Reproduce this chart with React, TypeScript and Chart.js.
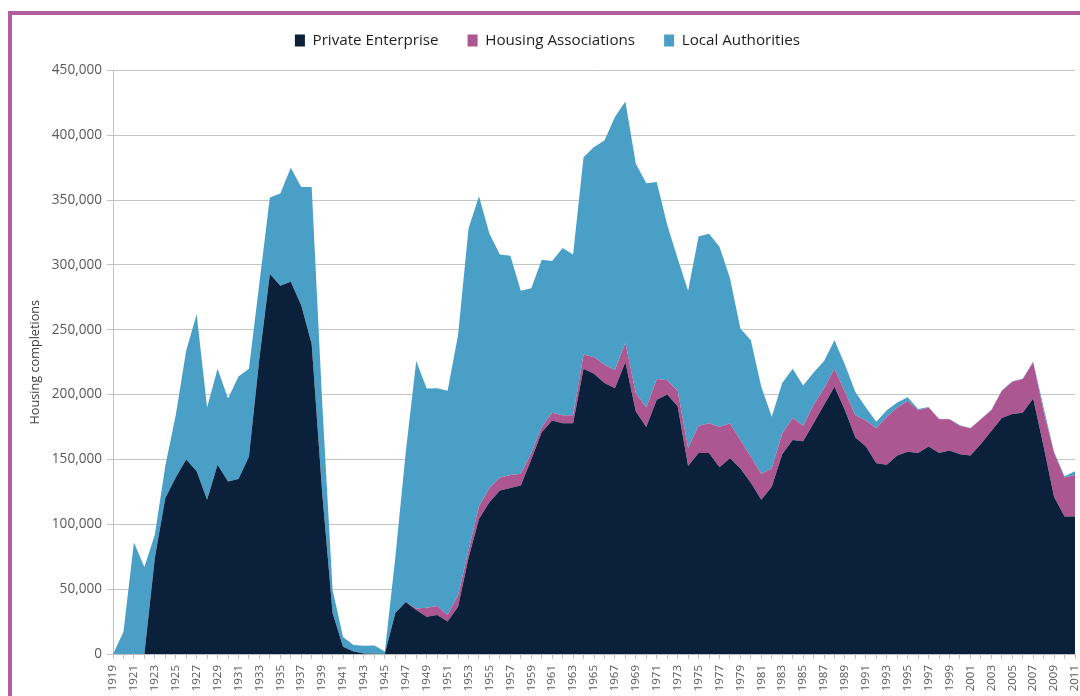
import React, { useEffect, useRef } from "react";
import { Chart, registerables } from "chart.js";

Chart.register(...registerables);

const years: string[] = [];
for (let y = 1919; y <= 2011; y++) years.push(String(y));

const privateEnterprise = [
  0, 0, 0, 0, 74000, 120000, 136000, 150000, 141000, 119000,
  146000, 133000, 135000, 152000, 228000, 293000, 284000, 287000, 269000, 239000,
  125000, 31600, 5600, 2000, 300, 200, 200, 31600, 40000, 34000,
  28700, 30000, 25000, 36400, 74000, 104000, 117000, 126000, 128000, 130000,
  150000, 171000, 180000, 178000, 178000, 220000, 216000, 209000, 205000, 225000,
  187000, 175000, 196000, 200000, 191000, 145000, 155000, 155000, 144000, 151000,
  143000, 132000, 119000, 129000, 154000, 165000, 164000, 178000, 192000, 206000,
  188000, 167000, 160000, 147000, 146000, 153000, 156000, 155000, 160000, 155000,
  157000, 154000, 153000, 162000, 172000, 182000, 185000, 186000, 197000, 160000,
  121000, 106000, 106000,
];

const housingAssociations = [
  0, 0, 0, 0, 0, 0, 0, 0, 0, 0,
  0, 0, 0, 0, 0, 0, 0, 0, 0, 0,
  0, 0, 0, 0, 0, 0, 0, 0, 0, 1000,
  7000, 7000, 5000, 9000, 6000, 10000, 11000, 10000, 10000, 9000,
  5000, 4000, 6000, 6000, 6000, 11000, 13000, 14000, 14000, 15000,
  14000, 15000, 16000, 11000, 12000, 14000, 21000, 23000, 31000, 27000,
  22000, 20000, 20000, 14000, 16000, 17000, 12000, 14000, 13000, 14000,
  14000, 17000, 20000, 27000, 37000, 37000, 39000, 33000, 30000, 26000,
  24000, 22000, 21000, 19000, 16000, 21000, 25000, 26000, 28000, 27000,
  34000, 30000, 32000,
];

const localAuthorities = [
  0, 17000, 86000, 67000, 18000, 25000, 48000, 84000, 121000, 71000,
  74000, 64000, 79000, 68000, 58000, 59000, 71000, 88000, 91000, 121000,
  70000, 18000, 7500, 5000, 6000, 6300, 1800, 43000, 116000, 191000,
  169000, 168000, 173000, 200600, 248000, 239000, 196000, 172000, 169000, 141000,
  127000, 129000, 117000, 129000, 124000, 152000, 162000, 173000, 195000, 186000,
  177000, 173000, 152000, 120000, 102000, 121000, 146000, 146000, 139000, 112000,
  86000, 90000, 67000, 40000, 39000, 38000, 31000, 25000, 21000, 22000,
  21000, 18000, 10000, 5000, 5000, 4000, 3000, 1000, 500, 300,
  200, 300, 200, 200, 300, 200, 300, 300, 500, 3000,
  1000, 1000, 3000,
];

const seriesNames = ["Private Enterprise", "Housing Associations", "Local Authorities"];
const seriesColors = ["#0b203b", "#ad5792", "#4a9fc7"];

export default function App() {
  const canvasRef = useRef<HTMLCanvasElement | null>(null);

  useEffect(() => {
    if (!canvasRef.current) return;
    const seriesData = [privateEnterprise, housingAssociations, localAuthorities];
    const chart = new Chart(canvasRef.current, {
      type: "line",
      data: {
        labels: years,
        datasets: seriesNames.map((name, i) => ({
          label: name,
          data: seriesData[i],
          backgroundColor: seriesColors[i],
          borderColor: seriesColors[i],
          borderWidth: 0,
          pointRadius: 0,
          pointHoverRadius: 0,
          tension: 0,
          fill: i === 0 ? "origin" : "-1",
        })),
      },
      options: {
        animation: false,
        responsive: false,
        maintainAspectRatio: false,
        layout: { padding: { left: 20, right: 25, top: 4, bottom: 0 } },
        plugins: {
          legend: {
            position: "top",
            labels: {
              boxWidth: 10,
              boxHeight: 12,
              padding: 29,
              color: "#1f1f1f",
              font: { family: "'Open Sans', sans-serif", size: 15.2 },
            },
          },
          subtitle: {
            display: true,
            text: "",
            weight: 500,
            font: { size: 1 },
            padding: { top: 5, bottom: 6 },
          } as any,
          tooltip: { enabled: false },
        },
        scales: {
          x: {
            type: "category",
            offset: false,
            grid: {
              drawOnChartArea: false,
              drawTicks: true,
              tickLength: 5,
              color: "#bfbfbf",
            },
            border: { display: true, color: "#bfbfbf" },
            ticks: {
              autoSkip: false,
              minRotation: 90,
              maxRotation: 90,
              padding: 6,
              color: "#595959",
              font: { family: "'Open Sans', sans-serif", size: 11.5 },
              callback: function (this: any, value: any, index: number) {
                return index % 2 === 0 ? this.getLabelForValue(value) : "";
              },
            },
            afterFit: (scale: any) => {
              scale.height = 42;
            },
          },
          y: {
            stacked: true,
            min: 0,
            max: 450000,
            grid: {
              color: "#c4c4c4",
              tickLength: 6,
              drawTicks: true,
            },
            border: { display: true, color: "#bfbfbf" },
            ticks: {
              stepSize: 50000,
              padding: 5,
              color: "#595959",
              font: { family: "'Open Sans', sans-serif", size: 13.6 },
              callback: (v: any) => Number(v).toLocaleString("en-US"),
            },
            title: {
              display: true,
              text: "Housing completions",
              color: "#404040",
              padding: { top: 8, bottom: 0 },
              font: { family: "'Open Sans', sans-serif", size: 12.7 },
            },
            afterFit: (scale: any) => {
              scale.width = 93;
            },
          },
        },
      },
    });
    return () => chart.destroy();
  }, []);

  return (
    <div
      style={{
        position: "absolute",
        left: 0,
        top: 0,
        width: 1080,
        height: 696,
        overflow: "hidden",
        background: "#ffffff",
      }}
    >
      <div
        style={{
          position: "absolute",
          left: 8,
          top: 11,
          width: 1200,
          height: 800,
          border: "4px solid #b35f9f",
          boxSizing: "border-box",
        }}
      />
      <canvas
        ref={canvasRef}
        width={1100}
        height={696}
        style={{ position: "absolute", left: 0, top: 0, width: 1100, height: 696 }}
      />
    </div>
  );
}
